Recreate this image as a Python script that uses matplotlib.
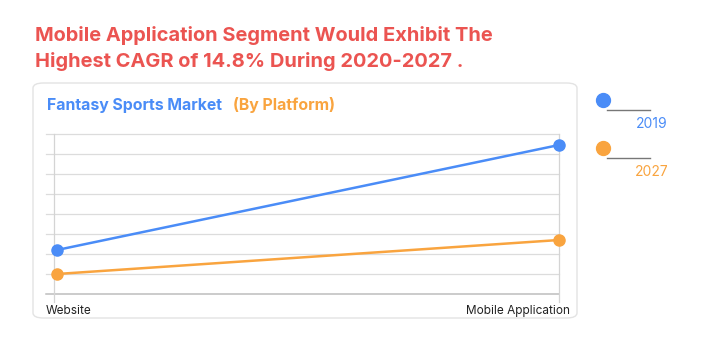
import matplotlib.pyplot as plt
from matplotlib.patches import FancyBboxPatch
from matplotlib.lines import Line2D

plt.rcParams['font.family'] = ['Inter', 'DejaVu Sans']

# platform segments and market size per year (relative units)
platforms = ['Website', 'Mobile Application']
years = ['2019', '2027']
values_2019 = [2.2, 7.45]
values_2027 = [1.0, 2.7]

blue = '#4A8CF7'
orange = '#F9A43F'
red = '#EB5451'

W, H = 703, 341
fig = plt.figure(figsize=(W / 100, H / 100), dpi=100)

def fx(px):
    return px / W

def fy(py):
    return 1 - py / H

# headline
fig.text(fx(35), fy(41), 'Mobile Application Segment Would Exhibit The',
         color=red, fontsize=14.4, fontweight='bold', va='baseline')
fig.text(fx(35), fy(67), 'Highest CAGR of 14.8% During 2020-2027 .',
         color=red, fontsize=14.4, fontweight='bold', va='baseline')

# card behind the chart
card = FancyBboxPatch((fx(33), fy(318)), fx(577) - fx(33), fy(83) - fy(318),
                      boxstyle='round,pad=0,rounding_size=0.015',
                      transform=fig.transFigure, facecolor='white',
                      edgecolor='#e3e3e3', linewidth=1.0, zorder=-5)
fig.patches.append(card)
fig.text(fx(47), fy(110), 'Fantasy Sports Market', color=blue,
         fontsize=11.4, fontweight='bold', va='baseline')
fig.text(fx(233), fy(110), '(By Platform)', color=orange,
         fontsize=11.4, fontweight='bold', va='baseline')

# plot area
left_px, right_px = 46, 559
ax = fig.add_axes([fx(left_px), fy(294), fx(right_px) - fx(left_px), fy(134) - fy(294)])
ax.set_facecolor('none')
ax.set_zorder(2)
x0 = -11 / 502
ax.set_xlim(x0, 1)
ax.set_ylim(0, 8)
for y in range(1, 9):
    ax.axhline(y, color='#dcdcdc', lw=0.9, zorder=1, clip_on=False)
ax.axhline(0, color='#bdbdbd', lw=1.1, zorder=1, clip_on=False)
for x in [-3 / 502, 1]:
    ax.plot([x, x], [-0.4, 8], color='#d4d4d4', lw=0.9, clip_on=False, zorder=1)

xs = [0, 1]
ax.plot(xs, values_2019, color=blue, lw=1.8, marker='o', ms=8, zorder=3, clip_on=False)
ax.plot(xs, values_2027, color=orange, lw=1.8, marker='o', ms=8, zorder=3, clip_on=False)

for s in ax.spines.values():
    s.set_visible(False)
ax.set_xticks([])
ax.set_yticks([])

fig.text(fx(46), fy(311), platforms[0], fontsize=8.5, color='#222222', va='center')
fig.text(fx(570), fy(311), platforms[1], fontsize=8.5, color='#222222', va='center', ha='right')

# legend
for yr, col, cy in [(years[0], blue, 100), (years[1], orange, 148)]:
    fig.lines.append(Line2D([fx(603)], [fy(cy)], marker='o', ms=10, color=col,
                            transform=fig.transFigure))
    fig.lines.append(Line2D([fx(607), fx(650)], [fy(cy + 10), fy(cy + 10)],
                            color='#777777', lw=1.0, transform=fig.transFigure))
    fig.text(fx(652), fy(cy + 24), yr, color=col, fontsize=10, ha='center', va='center')

fig.savefig('out.png', dpi=100)
